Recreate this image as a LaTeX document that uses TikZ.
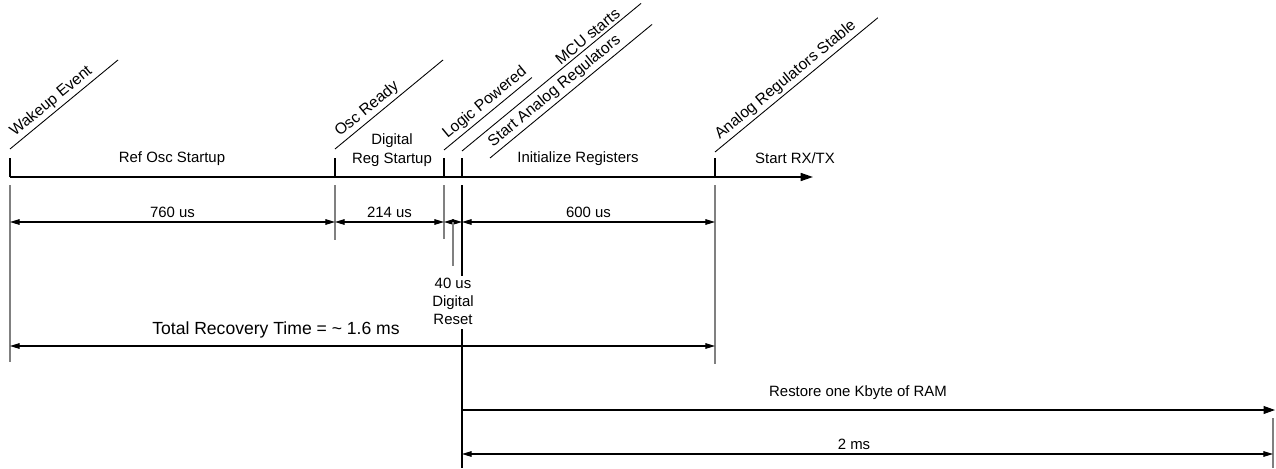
\documentclass[tikz,border=0pt]{standalone}
\usepackage{fontspec}
\setmainfont{Liberation Sans}
\usetikzlibrary{arrows.meta}

\begin{document}
\begin{tikzpicture}[
		x=0.02cm, y=0.02cm,
		>={Triangle[length=5.5pt,width=3.2pt]},
		every node/.style={font=\fontsize{8.5}{11}\selectfont},
		phase/.style={align=center, inner sep=1pt},
		evtick/.style={line width=0.8pt},
		marker/.style={line width=0.5pt},
		eventlabel/.style={anchor=south west, rotate=39.5, inner sep=1.5pt, font=\fontsize{8.9}{11}\selectfont},
		ext/.style={draw=gray, line width=0.8pt},
		dim/.style={<->, line width=0.6pt},
		dimlabel/.style={above, inner sep=2pt}
		]
		\useasboundingbox (0,0) rectangle (1276,468);
		
		% --- TIME LINE ---
		\coordinate (wake) at (10,291);
		\coordinate (osc) at (335,291);
		\coordinate (logic) at (444,291);
		\coordinate (mcu) at (462,291);
		\coordinate (stable) at (715,291);
		\coordinate (tend) at (813,291);
		
		\draw[line width=1pt, -{Triangle[length=7pt,width=4.5pt]}] (wake) -- (tend);
		\foreach \e in {wake,osc,logic,mcu,stable} {
			\draw[evtick] (\e) -- ++(0,19);
		}
		
		% Event markers (slanted)
		\foreach \e/\dx/\dy/\len/\p/\txt in {wake/0/28/140/0.06/Wakeup Event, osc/0/28/140/0.06/Osc Ready, logic/0/27/114/0.06/Logic Powered, mcu/0/26/232/0.55/MCU starts, mcu/28/19/210/0.03/Start Analog Regulators, stable/0/25/211/0.04/Analog Regulators Stable} {
			\draw[marker] (\e) ++(\dx,\dy) -- ++(39.5:\len) node[pos=\p, eventlabel] {\txt};
		}
		
		% Phase labels
		\node[phase] (refosc) at (172,309) {Ref Osc Startup};
		\node[phase] (digreg) at (392,318) {Digital\\Reg Startup};
		\node[phase] (initreg) at (578,309) {Initialize Registers};
		\node[phase] (rxtx) at (795,310) {Start RX/TX};
		
		% --- EXTENSION LINES ---
		\draw[ext] (wake) ++(0,-8) -- ++(0,-177);
		\draw[ext] (osc) ++(0,-8) -- ++(0,-55);
		\draw[ext] (logic) ++(0,-8) -- ++(0,-54);
		\draw[line width=0.6pt] (mcu) ++(0,-8) -- ++(0,-91);
		\draw[line width=0.6pt] (mcu) ++(0,-152) -- ++(0,-139);
		\draw[ext] (stable) ++(0,-8) -- ++(0,-179);
		
		% --- DURATIONS ---
		\coordinate (dimrow) at (0,246);
		\draw[dim] (wake |- dimrow) -- (osc |- dimrow) node[midway, dimlabel] (d760) {760 us};
		\draw[dim] (osc |- dimrow) -- (logic |- dimrow) node[midway, dimlabel] (d214) {214 us};
		\draw[dim] (logic |- dimrow) -- (mcu |- dimrow);
		\draw[dim] (mcu |- dimrow) -- (stable |- dimrow) node[midway, dimlabel] (d600) {600 us};
		
		% Digital reset
		\draw[ext] (453,246) -- ++(0,-44);
		\node[phase, font=\fontsize{8.5}{10.2}\selectfont] (reset) at (453,167) {40 us\\Digital\\Reset};
		
		% Total recovery
		\coordinate (totrow) at (0,122);
		\draw[dim] (wake |- totrow) -- (stable |- totrow);
		\node[font=\fontsize{10}{12}\selectfont] (total) at (276,138) {Total Recovery Time = \textasciitilde{} 1.6 ms};
		
		% --- RAM RESTORE ---
		\coordinate (ramend) at (1275,58);
		\coordinate (msend) at (1273,14);
		\draw[line width=0.6pt, -{Triangle[length=6.5pt,width=4.5pt]}] (mcu |- ramend) -- (ramend);
		\node (ram) at (858,75) {Restore one Kbyte of RAM};
		\draw[ext] (msend) ++(0,36) -- ++(0,-50);
		\draw[dim] (mcu |- msend) -- (msend);
		\node (d2ms) at (854,24) {2 ms};
		
	\end{tikzpicture}
\end{document}
